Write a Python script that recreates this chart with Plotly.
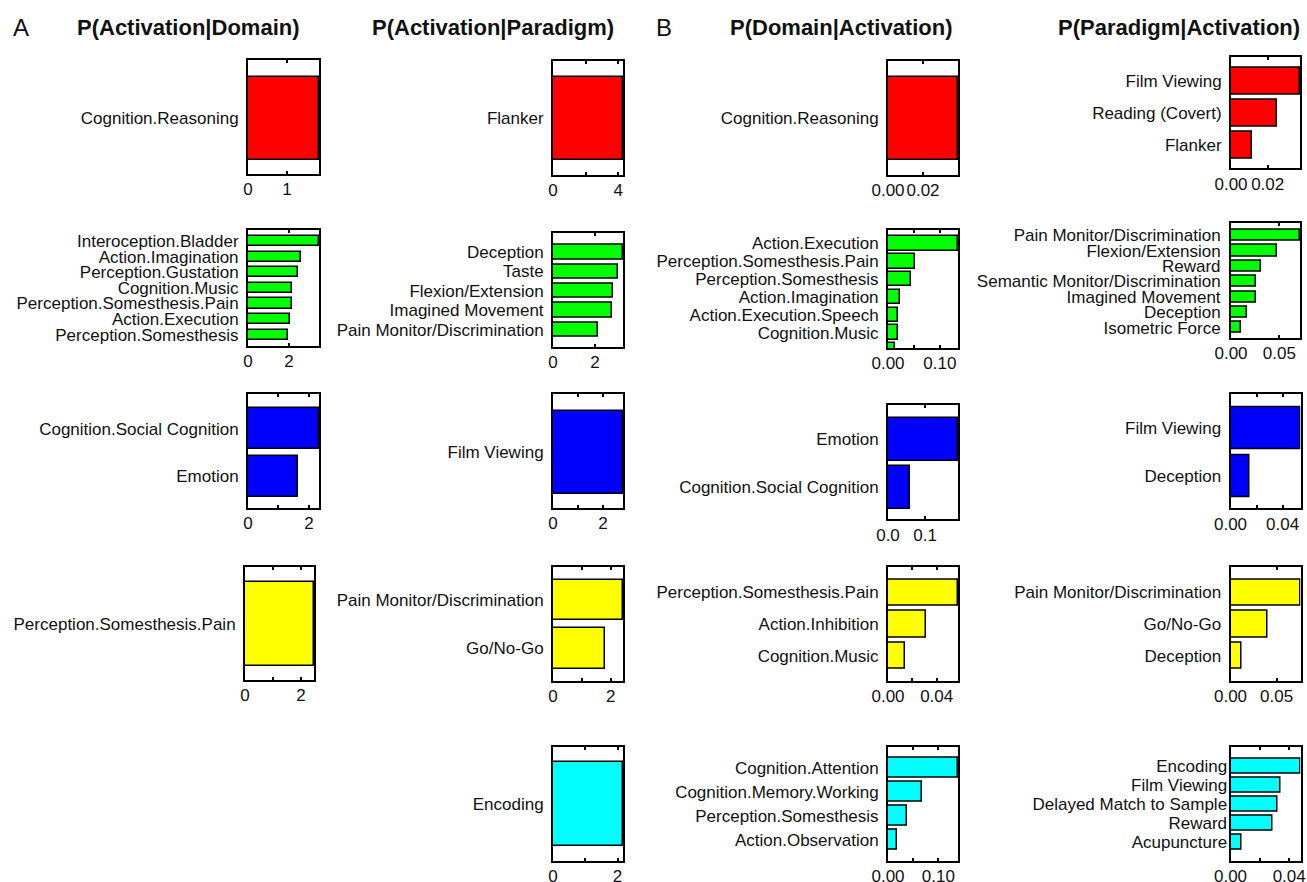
import plotly.graph_objects as go

W, H = 1307, 882
FONT = "Liberation Sans, Arial, sans-serif"

RED, GREEN, BLUE, YELLOW, CYAN = "#ff0000", "#00ff00", "#0000ff", "#ffff00", "#00ffff"

# ---- A: P(Activation|Domain) ----
act_dom_red_labels = ["Cognition.Reasoning"]
act_dom_red_values = [1.82]
act_dom_green_labels = ["Interoception.Bladder", "Action.Imagination", "Perception.Gustation",
                        "Cognition.Music", "Perception.Somesthesis.Pain", "Action.Execution",
                        "Perception.Somesthesis"]
act_dom_green_values = [3.46, 2.59, 2.42, 2.15, 2.15, 2.05, 1.95]
act_dom_blue_labels = ["Cognition.Social Cognition", "Emotion"]
act_dom_blue_values = [2.33, 1.64]
act_dom_yellow_labels = ["Perception.Somesthesis.Pain"]
act_dom_yellow_values = [2.46]

# ---- A: P(Activation|Paradigm) ----
act_par_red_labels = ["Flanker"]
act_par_red_values = [4.3]
act_par_green_labels = ["Deception", "Taste", "Flexion/Extension", "Imagined Movement",
                        "Pain Monitor/Discrimination"]
act_par_green_values = [3.33, 3.08, 2.84, 2.81, 2.13]
act_par_blue_labels = ["Film Viewing"]
act_par_blue_values = [2.8]
act_par_yellow_labels = ["Pain Monitor/Discrimination", "Go/No-Go"]
act_par_yellow_values = [2.43, 1.8]
act_par_cyan_labels = ["Encoding"]
act_par_cyan_values = [2.17]

# ---- B: P(Domain|Activation) ----
dom_act_red_labels = ["Cognition.Reasoning"]
dom_act_red_values = [0.040]
dom_act_green_labels = ["Action.Execution", "Perception.Somesthesis.Pain", "Perception.Somesthesis",
                        "Action.Imagination", "Action.Execution.Speech", "Cognition.Music", ""]
dom_act_green_values = [0.135, 0.052, 0.044, 0.024, 0.019, 0.019, 0.013]
dom_act_blue_labels = ["Emotion", "Cognition.Social Cognition"]
dom_act_blue_values = [0.189, 0.059]
dom_act_yellow_labels = ["Perception.Somesthesis.Pain", "Action.Inhibition", "Cognition.Music"]
dom_act_yellow_values = [0.0575, 0.0312, 0.014]
dom_act_cyan_labels = ["Cognition.Attention", "Cognition.Memory.Working", "Perception.Somesthesis",
                       "Action.Observation"]
dom_act_cyan_values = [0.139, 0.068, 0.038, 0.017]

# ---- B: P(Paradigm|Activation) ----
par_act_red_labels = ["Film Viewing", "Reading (Covert)", "Flanker"]
par_act_red_values = [0.0376, 0.0252, 0.0113]
par_act_green_labels = ["Pain Monitor/Discrimination", "Flexion/Extension", "Reward",
                        "Semantic Monitor/Discrimination", "Imagined Movement", "Deception",
                        "Isometric Force"]
par_act_green_values = [0.0714, 0.0478, 0.031, 0.0256, 0.0256, 0.0162, 0.0104]
par_act_blue_labels = ["Film Viewing", "Deception"]
par_act_blue_values = [0.0538, 0.0143]
par_act_yellow_labels = ["Pain Monitor/Discrimination", "Go/No-Go", "Deception"]
par_act_yellow_values = [0.0759, 0.040, 0.0115]
par_act_cyan_labels = ["Encoding", "Film Viewing", "Delayed Match to Sample", "Reward", "Acupuncture"]
par_act_cyan_values = [0.0477, 0.0344, 0.0319, 0.0285, 0.0073]

# panel: labels, values, colour, box (x0, x1, y0, y1 in px), pads (top, bottom), bar width,
#        tick values, tick texts, label standoff
panels = [
    (act_dom_red_labels, act_dom_red_values, RED, (248, 319, 60, 174), (0.705, 0.669), 1.0, [0, 1], ["0", "1"], 4),
    (act_dom_green_labels, act_dom_green_values, GREEN, (248, 319, 230, 346), (0.70, 0.72), 0.65, [0, 2], ["0", "2"], 4),
    (act_dom_blue_labels, act_dom_blue_values, BLUE, (248, 319, 394, 508), (0.73, 0.67), 0.86, [0, 1, 2], ["0", "", "2"], 4),
    (act_dom_yellow_labels, act_dom_yellow_values, YELLOW, (245, 314, 567, 680), (0.68, 0.67), 1.0, [0, 1, 2], ["0", "", "2"], 4),

    (act_par_red_labels, act_par_red_values, RED, (553, 623, 61, 175), (0.69, 0.68), 1.0, [0, 2, 4], ["0", "", "4"], 4),
    (act_par_green_labels, act_par_green_values, GREEN, (553, 623, 232.7, 346.7), (1.0, 0.88), 0.74, [0, 2], ["0", "2"], 4),
    (act_par_blue_labels, act_par_blue_values, BLUE, (553, 623, 394, 508), (0.70, 0.67), 1.0, [0, 1, 2], ["0", "", "2"], 4),
    (act_par_yellow_labels, act_par_yellow_values, YELLOW, (553, 623, 567, 681), (0.68, 0.67), 0.84, [0, 1, 2], ["0", "", "2"], 4),
    (act_par_cyan_labels, act_par_cyan_values, CYAN, (553, 623, 747, 861), (0.68, 0.68), 1.0, [0, 1, 2], ["0", "", "2"], 4),

    (dom_act_red_labels, dom_act_red_values, RED, (888, 958, 61, 175), (0.69, 0.68), 1.0, [0, 0.02], ["0.00", "0.02"], 4),
    (dom_act_green_labels, dom_act_green_values, GREEN, (888, 958, 230, 348), (0.74, -0.15), 0.82, [0, 0.05, 0.10], ["0.00", "", "0.10"], 4),
    (dom_act_blue_labels, dom_act_blue_values, BLUE, (888, 958, 405, 519.3), (0.72, 0.67), 0.89, [0, 0.1], ["0.0", "0.1"], 4),
    (dom_act_yellow_labels, dom_act_yellow_values, YELLOW, (888, 958, 566.7, 681), (0.81, 0.79), 0.83, [0, 0.02, 0.04], ["0.00", "", "0.04"], 4),
    (dom_act_cyan_labels, dom_act_cyan_values, CYAN, (888, 958, 746.7, 861), (0.88, 0.875), 0.83, [0, 0.05, 0.10], ["0.00", "", "0.10"], 4),

    (par_act_red_labels, par_act_red_values, RED, (1231, 1300, 56.7, 168.3), (0.77, 0.73), 0.83, [0, 0.02], ["0.00", "0.02"], 4),
    (par_act_green_labels, par_act_green_values, GREEN, (1231, 1300, 222.7, 338), (0.82, 0.68), 0.72, [0, 0.05], ["0.00", "0.05"], 5),
    (par_act_blue_labels, par_act_blue_values, BLUE, (1230.5, 1300.5, 394.3, 508.3), (0.71, 0.67), 0.86, [0, 0.02, 0.04], ["0.00", "", "0.04"], 4),
    (par_act_yellow_labels, par_act_yellow_values, YELLOW, (1230.5, 1300.5, 566.7, 681), (0.81, 0.79), 0.83, [0, 0.05], ["0.00", "0.05"], 4),
    (par_act_cyan_labels, par_act_cyan_values, CYAN, (1230.5, 1300.5, 746.7, 861), (1.02, 0.99), 0.76, [0, 0.02, 0.04], ["0.00", "", "0.04"], -2),
]

fig = go.Figure()
layout = {}
for i, (labels, values, color, box, pads, bw, tv, tt, standoff) in enumerate(panels, start=1):
    n = len(values)
    pos = list(range(1, n + 1))
    sfx = "" if i == 1 else str(i)
    fig.add_trace(go.Bar(
        x=values, y=pos, orientation="h", width=bw,
        marker=dict(color=color, line=dict(color="black", width=1.5)),
        xaxis="x" + sfx, yaxis="y" + sfx, showlegend=False, hoverinfo="skip",
    ))
    x0, x1, y0, y1 = box
    layout["xaxis" + sfx] = dict(
        domain=[x0 / W, x1 / W], anchor="y" + sfx, range=[0, max(values)],
        automargin=False,
        showgrid=False, zeroline=False, showline=True, linecolor="black", linewidth=2,
        mirror="ticks", ticks="inside", ticklen=3, tickwidth=1.5, tickcolor="black",
        tickvals=tv, ticktext=tt, tickangle=0, ticklabelstandoff=-1,
        tickfont=dict(family=FONT, size=17, color="#111"),
    )
    layout["yaxis" + sfx] = dict(
        domain=[1 - y1 / H, 1 - y0 / H], anchor="x" + sfx,
        range=[n + pads[1], 1 - pads[0]], automargin=False,
        showgrid=False, zeroline=False, showline=True, linecolor="black", linewidth=2,
        mirror=True, ticks="", tickvals=pos, ticktext=labels,
        ticklabelstandoff=standoff,
        tickfont=dict(family=FONT, size=17, color="#111"),
    )

titles = [
    ("P(Activation|Domain)", 188),
    ("P(Activation|Paradigm)", 493),
    ("P(Domain|Activation)", 841),
    ("P(Paradigm|Activation)", 1179),
]
annotations = []
for text, cx in titles:
    annotations.append(dict(
        text="<b>%s</b>" % text, x=cx / W, y=1 - 27 / H, xref="paper", yref="paper",
        xanchor="center", yanchor="middle", showarrow=False,
        font=dict(family=FONT, size=22, color="#111"),
    ))
for text, cx in [("A", 21), ("B", 664)]:
    annotations.append(dict(
        text=text, x=cx / W, y=1 - 27 / H, xref="paper", yref="paper",
        xanchor="center", yanchor="middle", showarrow=False,
        font=dict(family=FONT, size=24, color="#111"),
    ))

fig.update_layout(
    width=W, height=H, margin=dict(l=0, r=0, t=0, b=0, autoexpand=False),
    paper_bgcolor="white", plot_bgcolor="white",
    annotations=annotations, bargap=0, **layout,
)
fig.write_html("out.html")
